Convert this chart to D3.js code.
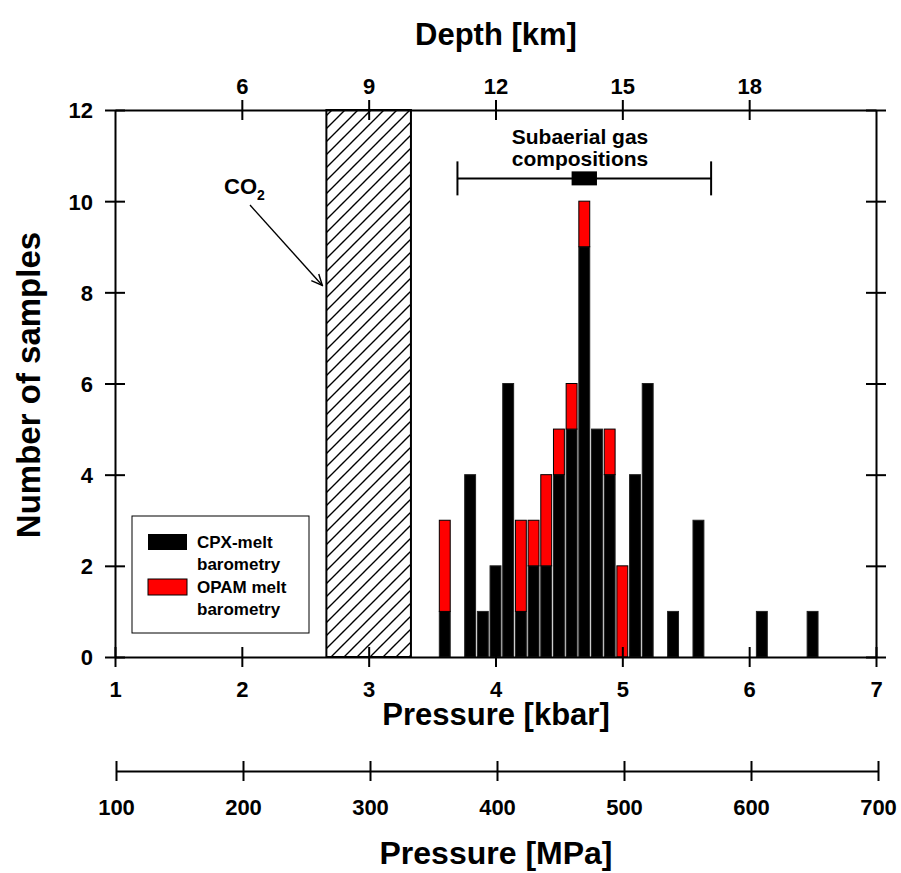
<!DOCTYPE html>
<html>
<head>
<meta charset="utf-8">
<script src="https://cdn.jsdelivr.net/npm/d3@7"></script>
<style>
  body { margin: 0; background: #fff; }
  text { font-family: "Liberation Sans", Arial, sans-serif; font-weight: bold; fill: #000; }
  .domain { stroke: #000; stroke-width: 2; }
  .tick line { stroke: #000; stroke-width: 2; }
</style>
</head>
<body>
<div id="chart"></div>
<script>
// histogram data: pressure bins (kbar) and counts per method
var pressures = [3.6, 3.8, 3.9, 4.0, 4.1, 4.2, 4.3, 4.4, 4.5, 4.6, 4.7, 4.8, 4.9, 5.0, 5.1, 5.2, 5.4, 5.6, 6.1, 6.5];
var cpxCounts = [1, 4, 1, 2, 6, 1, 2, 2, 4, 5, 9, 5, 4, 0, 4, 6, 1, 3, 1, 1];
var opamCounts = [2, 0, 0, 0, 0, 2, 1, 2, 1, 1, 1, 0, 1, 2, 0, 0, 0, 0, 0, 0];

var kbarTicks = [1, 2, 3, 4, 5, 6, 7];
var countTicks = [0, 2, 4, 6, 8, 10, 12];
var depthTicks = [6, 9, 12, 15, 18];
var mpaTicks = [100, 200, 300, 400, 500, 600, 700];

var co2Depth = [8, 10];          // km, hatched band
var gasRange = [3.7, 5.7];       // kbar
var gasBox = [4.6, 4.8];         // kbar
var gasLevel = 10.5;             // y position (count units)
var co2Arrow = [8.15];           // count level where arrow hits band

var W = 901, H = 873;
var pLeft = 115, pRight = 876, pTop = 110, pBottom = 657;
var barW = 0.086;

var svg = d3.select('#chart').append('svg').attr('width', W).attr('height', H);

var x = d3.scaleLinear().domain([1, 7]).range([pLeft, pRight]);
var y = d3.scaleLinear().domain([0, 12]).range([pBottom, pTop]);
var xDepth = d3.scaleLinear().domain([3, 21]).range([pLeft, pRight]);
var xMpa = d3.scaleLinear().domain([100, 700]).range([116, 878]);

var defs = svg.append('defs');
var pat = defs.append('pattern').attr('id', 'hatch').attr('patternUnits', 'userSpaceOnUse')
  .attr('width', 13).attr('height', 13);
pat.append('path').attr('d', 'M-1,14 L14,-1 M-4,4 L4,-4 M9,17 L17,9')
  .attr('stroke', '#000').attr('stroke-width', 1.4);

// hatched CO2 band (depth converted to kbar via depth scale)
svg.append('rect')
  .attr('x', xDepth(co2Depth[0])).attr('y', y(12))
  .attr('width', xDepth(co2Depth[1]) - xDepth(co2Depth[0]))
  .attr('height', y(0) - y(12))
  .attr('fill', 'url(#hatch)').attr('stroke', '#000').attr('stroke-width', 2);

// bars
var rows = pressures.map(function (p, i) { return { p: p, cpx: cpxCounts[i], opam: opamCounts[i] }; });
svg.selectAll('.cpx').data(rows.filter(function (d) { return d.cpx > 0; })).enter().append('rect')
  .attr('class', 'cpx')
  .attr('x', function (d) { return x(d.p - barW / 2); })
  .attr('width', function (d) { return x(barW) - x(0); })
  .attr('y', function (d) { return y(d.cpx); })
  .attr('height', function (d) { return y(0) - y(d.cpx); })
  .attr('fill', '#000').attr('stroke', '#222').attr('stroke-width', 1);
svg.selectAll('.opam').data(rows.filter(function (d) { return d.opam > 0; })).enter().append('rect')
  .attr('class', 'opam')
  .attr('x', function (d) { return x(d.p - barW / 2); })
  .attr('width', function (d) { return x(barW) - x(0); })
  .attr('y', function (d) { return y(d.cpx + d.opam); })
  .attr('height', function (d) { return y(d.cpx) - y(d.cpx + d.opam); })
  .attr('fill', '#ff0000').attr('stroke', '#000').attr('stroke-width', 1);

// axes
function crossTicks(g, horizontal) {
  g.selectAll('.tick line').attr(horizontal ? 'y1' : 'x1', -10).attr(horizontal ? 'y2' : 'x2', 10);
  g.selectAll('.tick text').style('font-size', '22px').attr('font-family', null);
}

var gx = svg.append('g').attr('transform', 'translate(0,' + pBottom + ')')
  .call(d3.axisBottom(x).tickValues(kbarTicks).tickSize(10).tickSizeOuter(0).tickFormat(d3.format('d')));
crossTicks(gx, true);
gx.selectAll('.tick text').attr('y', 40).attr('dy', null);

var gy = svg.append('g').attr('transform', 'translate(' + pLeft + ',0)')
  .call(d3.axisLeft(y).tickValues(countTicks).tickSize(10).tickSizeOuter(0));
crossTicks(gy, false);
gy.selectAll('.tick text').attr('x', -22).attr('dy', '0.36em');

var gy2 = svg.append('g').attr('transform', 'translate(' + pRight + ',0)')
  .call(d3.axisRight(y).tickValues(countTicks).tickSize(10).tickSizeOuter(0).tickFormat(''));
crossTicks(gy2, false);

var gt = svg.append('g').attr('transform', 'translate(0,' + pTop + ')')
  .call(d3.axisTop(xDepth).tickValues(depthTicks).tickSize(10).tickSizeOuter(0));
crossTicks(gt, true);
gt.selectAll('.tick text').attr('y', -16).attr('dy', null);

var gm = svg.append('g').attr('transform', 'translate(0,771)')
  .call(d3.axisBottom(xMpa).tickValues(mpaTicks).tickSize(10).tickSizeOuter(0));
crossTicks(gm, true);
gm.selectAll('.tick text').attr('y', 44).attr('dy', null);

// axis titles
svg.append('text').attr('x', 496).attr('y', 45).attr('text-anchor', 'middle')
  .style('font-size', '31px').text('Depth [km]');
svg.append('text').attr('x', 496).attr('y', 725).attr('text-anchor', 'middle')
  .style('font-size', '31px').text('Pressure [kbar]');
svg.append('text').attr('x', 496).attr('y', 864).attr('text-anchor', 'middle')
  .style('font-size', '32px').text('Pressure [MPa]');
svg.append('text').attr('transform', 'translate(40,385) rotate(-90)').attr('text-anchor', 'middle')
  .style('font-size', '33px').text('Number of samples');

// subaerial gas composition range
var gas = svg.append('g');
gas.append('line').attr('x1', x(gasRange[0])).attr('x2', x(gasRange[1]))
  .attr('y1', y(gasLevel)).attr('y2', y(gasLevel)).attr('stroke', '#000').attr('stroke-width', 2);
gasRange.forEach(function (v) {
  gas.append('line').attr('x1', x(v)).attr('x2', x(v))
    .attr('y1', y(gasLevel) - 17).attr('y2', y(gasLevel) + 17).attr('stroke', '#000').attr('stroke-width', 2);
});
gas.append('rect').attr('x', x(gasBox[0])).attr('width', x(gasBox[1]) - x(gasBox[0]))
  .attr('y', y(gasLevel) - 7).attr('height', 14).attr('fill', '#000');
gas.append('text').attr('x', 580).attr('y', 144).attr('text-anchor', 'middle')
  .style('font-size', '21px').text('Subaerial gas');
gas.append('text').attr('x', 580).attr('y', 166).attr('text-anchor', 'middle')
  .style('font-size', '21px').text('compositions');

// CO2 label with arrow
defs.append('marker').attr('id', 'arrow').attr('viewBox', '0 0 12 12')
  .attr('refX', 11).attr('refY', 6).attr('markerWidth', 12).attr('markerHeight', 12)
  .attr('markerUnits', 'userSpaceOnUse').attr('orient', 'auto')
  .append('path').attr('d', 'M0,1 L11,6 L0,11').attr('fill', 'none').attr('stroke', '#000').attr('stroke-width', 1.4);
svg.append('line').attr('x1', 250).attr('y1', 205)
  .attr('x2', xDepth(co2Depth[0]) - 4).attr('y2', y(co2Arrow[0]))
  .attr('stroke', '#000').attr('stroke-width', 1.4).attr('marker-end', 'url(#arrow)');
var co2 = svg.append('text').attr('x', 224).attr('y', 194).style('font-size', '22px');
co2.append('tspan').text('CO');
co2.append('tspan').attr('dy', 6).style('font-size', '14px').text('2');

// legend
var lg = svg.append('g');
lg.append('rect').attr('x', 132).attr('y', 516).attr('width', 177).attr('height', 117)
  .attr('fill', '#fff').attr('stroke', '#000').attr('stroke-width', 1);
lg.append('rect').attr('x', 148).attr('y', 534).attr('width', 39).attr('height', 16).attr('fill', '#000');
lg.append('rect').attr('x', 148).attr('y', 579).attr('width', 39).attr('height', 16)
  .attr('fill', '#ff0000').attr('stroke', '#000').attr('stroke-width', 1);
[['CPX-melt', 548], ['barometry', 570], ['OPAM melt', 593], ['barometry', 615]].forEach(function (t) {
  lg.append('text').attr('x', 197).attr('y', t[1]).style('font-size', '17px').text(t[0]);
});
</script>
</body>
</html>
